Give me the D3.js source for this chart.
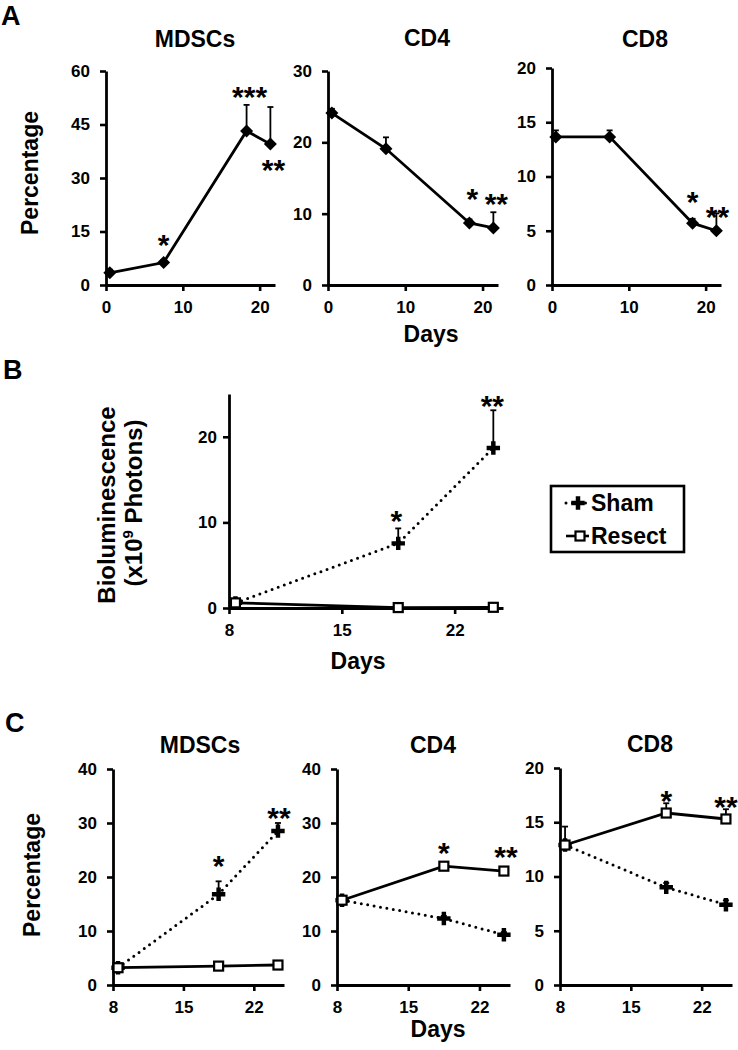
<!DOCTYPE html>
<html>
<head>
<meta charset="utf-8">
<script src="https://cdn.jsdelivr.net/npm/d3@7"></script>
<style>
  body { margin: 0; background: #fff; }
  svg text { font-family: "Liberation Sans", Arial, sans-serif; font-weight: bold; fill: #000; }
</style>
</head>
<body>
<svg id="fig" width="738" height="1050"></svg>
<script>
// ---- data ----
// Panel A: tumour-bearing mice, days after implant
const daysA = [0.5, 7.5, 18.3, 21.4];
const mdscA = [3.4, 6.3, 43.2, 39.5];
const mdscAErr = [0.9, 0.7, 7.3, 10.4];
const cd4A = [24.1, 19.1, 8.7, 8.0];
const cd4AErr = [0.6, 1.6, 0.5, 2.2];
const cd8A = [13.65, 13.65, 5.7, 5.0];
const cd8AErr = [0.6, 0.6, 0.4, 1.6];

// Panel B: bioluminescence (x10^9 photons)
const daysB = [8.4, 18.5, 24.4];
const bioSham = [0.6, 7.55, 18.7];
const bioShamErr = [0.2, 1.75, 4.4];
const bioResect = [0.6, 0.05, 0.08];
const bioResectErr = [0.1, 0, 0];

// Panel C: sham vs resected
const daysC = [8.5, 18.5, 24.4];
const mdscSham = [3.2, 16.8, 28.5];
const mdscShamErr = [0.3, 2.4, 1.5];
const mdscResect = [3.2, 3.5, 3.7];
const mdscResectErr = [0.3, 0.3, 0.3];
const cd4Sham = [15.7, 12.3, 9.3];
const cd4ShamErr = [0.4, 0.5, 0.5];
const cd4Resect = [15.7, 22.0, 21.1];
const cd4ResectErr = [0.4, 0.4, 0.5];
const cd8Sham = [12.9, 9.0, 7.4];
const cd8ShamErr = [0.4, 0.4, 0.4];
const cd8Resect = [12.9, 15.85, 15.3];
const cd8ResectErr = [1.7, 0.9, 0.9];

// tick labels
const xTicksA = [0, 10, 20];
const xTicksBC = [8, 15, 22];
const yTicksMdscA = [0, 15, 30, 45, 60];
const yTicksCd4A = [0, 10, 20, 30];
const yTicks20 = [0, 5, 10, 15, 20];
const yTicksB = [0, 10, 20];
const yTicks40 = [0, 10, 20, 30, 40];

const svg = d3.select('#fig');

const diamondPath = 'M0,-6.5L6.5,0L0,6.5L-6.5,0Z';
const crossPath = d3.symbol().type(d3.symbolCross).size(100)();

function drawMarker(sel, kind) {
    if (kind === 'diamond') {
        sel.append('path').attr('d', diamondPath).attr('fill', '#000');
    } else if (kind === 'sham') {
        sel.append('path').attr('d', crossPath).attr('fill', '#000');
    } else {
        sel.append('rect').attr('x', -4.5).attr('y', -4.5).attr('width', 9).attr('height', 9)
            .attr('fill', '#fff').attr('stroke', '#000').attr('stroke-width', 2.2);
    }
}

function styleAxis(g) {
    g.select('.domain').attr('stroke', '#000').attr('stroke-width', 2.8);
    g.selectAll('.tick line').attr('stroke', '#000').attr('stroke-width', 2.6);
    g.selectAll('.tick text').style('font-size', '17px').attr('fill', '#000');
}

function drawPanel(cfg) {
    const g = svg.append('g');
    const x = d3.scaleLinear().domain(cfg.xDomain).range([cfg.left, cfg.right]);
    const y = d3.scaleLinear().domain(cfg.yDomain).range([cfg.bottom, cfg.top]);

    g.append('g')
        .attr('transform', `translate(0,${cfg.bottom})`)
        .call(d3.axisBottom(x).tickValues(cfg.xTicks).tickSize(6).tickPadding(10).tickSizeOuter(0))
        .call(styleAxis);
    g.append('g')
        .attr('transform', `translate(${cfg.left},0)`)
        .call(d3.axisLeft(y).tickValues(cfg.yTicks).tickSize(6).tickPadding(cfg.yPad || 10).tickSizeOuter(0))
        .call(styleAxis);

    cfg.series.forEach(s => {
        const pts = s.values.map((v, i) => ({ d: s.days[i], v: v, e: s.errs[i] }));
        const line = d3.line().x(p => x(p.d)).y(p => y(p.v));
        const path = g.append('path').datum(pts)
            .attr('d', line)
            .attr('fill', 'none')
            .attr('stroke', '#000');
        if (s.kind === 'sham') {
            path.attr('stroke-width', 3).attr('stroke-dasharray', '0 6.5').attr('stroke-linecap', 'round');
        } else {
            path.attr('stroke-width', 2.8);
        }

        // error bars (upper only)
        const eb = g.append('g').selectAll('g').data(pts.filter(p => p.e > 0)).enter().append('g');
        eb.append('line')
            .attr('x1', p => x(p.d)).attr('x2', p => x(p.d))
            .attr('y1', p => y(p.v)).attr('y2', p => y(p.v + p.e))
            .attr('stroke', '#000').attr('stroke-width', 1.8);
        eb.append('line')
            .attr('x1', p => x(p.d) - 3).attr('x2', p => x(p.d) + 3)
            .attr('y1', p => y(p.v + p.e)).attr('y2', p => y(p.v + p.e))
            .attr('stroke', '#000').attr('stroke-width', 1.8);

        g.append('g').selectAll('g').data(pts).enter().append('g')
            .attr('transform', p => `translate(${x(p.d)},${y(p.v)})`)
            .each(function () { drawMarker(d3.select(this), s.kind); });
    });

    // significance stars, offset in px from the point they mark
    (cfg.stars || []).forEach(st => {
        const s = cfg.series[st.series];
        g.append('text')
            .attr('x', x(s.days[st.idx]) + st.dx)
            .attr('y', y(s.values[st.idx]) + st.dy + 17)
            .attr('text-anchor', 'middle')
            .style('font-size', '30px')
            .text(st.text);
    });

    if (cfg.title) {
        g.append('text')
            .attr('x', cfg.titleX).attr('y', cfg.titleY)
            .attr('text-anchor', 'middle')
            .style('font-size', '23px')
            .text(cfg.title);
    }
}

// ---- Panel A ----
const topA = 71, bottomA = 285;
drawPanel({
    left: 106, right: 275, top: topA, bottom: bottomA,
    xDomain: [0, 22], yDomain: [0, 60], xTicks: xTicksA, yTicks: yTicksMdscA,
    title: 'MDSCs', titleX: 195, titleY: 47,
    series: [{ days: daysA, values: mdscA, errs: mdscAErr, kind: 'diamond' }],
    stars: [
        { series: 0, idx: 1, text: '*', dx: 0, dy: -25 },
        { series: 0, idx: 2, text: '***', dx: 3, dy: -41 },
        { series: 0, idx: 3, text: '**', dx: 3, dy: 19 }
    ]
});
drawPanel({
    left: 328, right: 498, top: topA, bottom: bottomA,
    xDomain: [0, 22], yDomain: [0, 30], xTicks: xTicksA, yTicks: yTicksCd4A,
    title: 'CD4', titleX: 427, titleY: 46,
    series: [{ days: daysA, values: cd4A, errs: cd4AErr, kind: 'diamond' }],
    stars: [
        { series: 0, idx: 2, text: '*', dx: 3, dy: -31 },
        { series: 0, idx: 3, text: '**', dx: 3, dy: -31 }
    ]
});
drawPanel({
    left: 552, right: 721, top: 68, bottom: bottomA,
    xDomain: [0, 22], yDomain: [0, 20], xTicks: xTicksA, yTicks: yTicks20,
    title: 'CD8', titleX: 645, titleY: 47,
    series: [{ days: daysA, values: cd8A, errs: cd8AErr, kind: 'diamond' }],
    stars: [
        { series: 0, idx: 2, text: '*', dx: 0, dy: -28 },
        { series: 0, idx: 3, text: '**', dx: 1, dy: -21 }
    ]
});

// ---- Panel B ----
drawPanel({
    left: 229, right: 503, top: 394, bottom: 608, yPad: 6,
    xDomain: [8, 25], yDomain: [0, 25], xTicks: xTicksBC, yTicks: yTicksB,
    series: [
        { days: daysB, values: bioSham, errs: bioShamErr, kind: 'sham' },
        { days: daysB, values: bioResect, errs: bioResectErr, kind: 'resect' }
    ],
    stars: [
        { series: 0, idx: 1, text: '*', dx: -2, dy: -29 },
        { series: 0, idx: 2, text: '**', dx: -1, dy: -49 }
    ]
});

// ---- Panel C ----
const topC = 769, bottomC = 985;
drawPanel({
    left: 113, right: 284, top: topC, bottom: bottomC,
    xDomain: [8, 25], yDomain: [0, 40], xTicks: xTicksBC, yTicks: yTicks40,
    title: 'MDSCs', titleX: 200, titleY: 753,
    series: [
        { days: daysC, values: mdscSham, errs: mdscShamErr, kind: 'sham' },
        { days: daysC, values: mdscResect, errs: mdscResectErr, kind: 'resect' }
    ],
    stars: [
        { series: 0, idx: 1, text: '*', dx: 0, dy: -35 },
        { series: 0, idx: 2, text: '**', dx: 1, dy: -20 }
    ]
});
drawPanel({
    left: 337, right: 510, top: topC, bottom: bottomC,
    xDomain: [8, 25], yDomain: [0, 40], xTicks: xTicksBC, yTicks: yTicks40,
    title: 'CD4', titleX: 433, titleY: 753,
    series: [
        { days: daysC, values: cd4Sham, errs: cd4ShamErr, kind: 'sham' },
        { days: daysC, values: cd4Resect, errs: cd4ResectErr, kind: 'resect' }
    ],
    stars: [
        { series: 1, idx: 1, text: '*', dx: 0, dy: -20 },
        { series: 1, idx: 2, text: '**', dx: 2, dy: -21 }
    ]
});
drawPanel({
    left: 560, right: 732, top: 768, bottom: bottomC,
    xDomain: [8, 25], yDomain: [0, 20], xTicks: xTicksBC, yTicks: yTicks20,
    title: 'CD8', titleX: 650, titleY: 752,
    series: [
        { days: daysC, values: cd8Sham, errs: cd8ShamErr, kind: 'sham' },
        { days: daysC, values: cd8Resect, errs: cd8ResectErr, kind: 'resect' }
    ],
    stars: [
        { series: 1, idx: 1, text: '*', dx: 0, dy: -19 },
        { series: 1, idx: 2, text: '**', dx: 0, dy: -19 }
    ]
});

// ---- labels ----
function label(txt, x, y, size, rot) {
    return svg.append('text')
        .attr('transform', `translate(${x},${y})` + (rot ? ' rotate(-90)' : ''))
        .attr('text-anchor', 'middle')
        .style('font-size', size + 'px')
        .text(txt);
}

svg.append('text').attr('x', 1).attr('y', 25).style('font-size', '27px').text('A');
svg.append('text').attr('x', 3).attr('y', 379).style('font-size', '27px').text('B');
svg.append('text').attr('x', 5).attr('y', 732).style('font-size', '27px').text('C');

label('Percentage', 38, 173, 23, true);
label('Percentage', 40, 875, 23, true);
label('Days', 431, 342, 23);
label('Days', 358, 669, 23);
label('Days', 438, 1037, 23);

label('Bioluminescence', 115, 505, 24, true);
const photons = svg.append('text')
    .attr('transform', 'translate(142,503) rotate(-90)')
    .attr('text-anchor', 'middle')
    .style('font-size', '24px');
photons.append('tspan').text('(x10');
photons.append('tspan').attr('dy', -9).style('font-size', '15px').text('9');
photons.append('tspan').attr('dy', 9).text(' Photons)');

// ---- legend ----
const leg = svg.append('g');
leg.append('rect').attr('x', 551).attr('y', 486).attr('width', 133).attr('height', 66)
    .attr('fill', 'none').attr('stroke', '#000').attr('stroke-width', 2.6);
const legendItems = [
    { kind: 'sham', name: 'Sham', y: 503, mx: 578 },
    { kind: 'resect', name: 'Resect', y: 536, mx: 580 }
];
legendItems.forEach(it => {
    const ln = leg.append('line').attr('x1', 566).attr('x2', 589).attr('y1', it.y).attr('y2', it.y)
        .attr('stroke', '#000');
    if (it.kind === 'sham') {
        ln.attr('stroke-width', 3).attr('stroke-dasharray', '0 6.5').attr('stroke-linecap', 'round');
    } else {
        ln.attr('stroke-width', 2.6);
    }
    const m = leg.append('g').attr('transform', `translate(${it.mx},${it.y})`);
    drawMarker(m, it.kind);
    leg.append('text').attr('x', 591).attr('y', it.y + 8).style('font-size', '23px').text(it.name);
});
</script>
</body>
</html>
